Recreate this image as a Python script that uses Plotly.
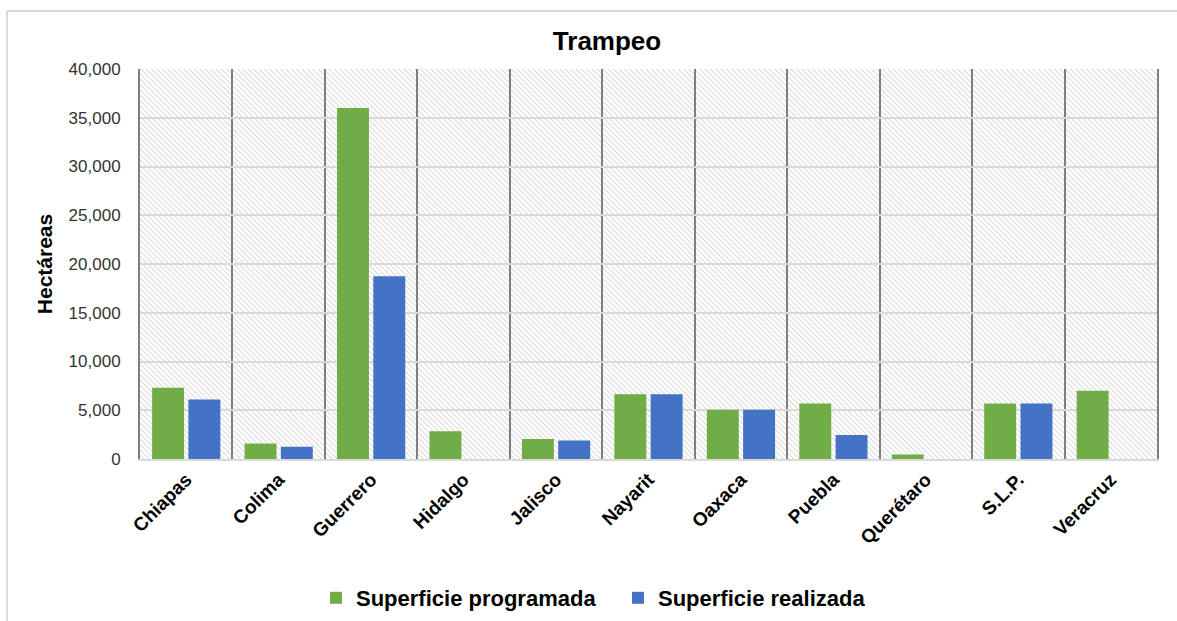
import base64
import plotly.graph_objects as go

estados = ["Chiapas", "Colima", "Guerrero", "Hidalgo", "Jalisco", "Nayarit",
           "Oaxaca", "Puebla", "Querétaro", "S.L.P.", "Veracruz"]
sup_programada = [7300, 1600, 36000, 2850, 2050, 6650, 5050, 5700, 450, 5700, 7000]
sup_realizada = [6100, 1250, 18750, 0, 1900, 6650, 5050, 2450, 0, 5700, 0]
y_ticks = [0, 5000, 10000, 15000, 20000, 25000, 30000, 35000, 40000]

W, H = 1177, 621
ML, MR, MT, MB = 140, 20, 69, 162
PW, PH = W - ML - MR, H - MT - MB

FONT = "Liberation Sans Narrow, Arial Narrow, Liberation Sans, Arial, sans-serif"

svg = (
    f'<svg xmlns="http://www.w3.org/2000/svg" width="{PW}" height="{PH}" viewBox="0 0 {PW} {PH}">'
    '<defs><pattern id="h" patternUnits="userSpaceOnUse" width="3.8" height="3.8" '
    'patternTransform="rotate(-45)"><rect width="3.8" height="3.8" fill="#ffffff"/>'
    '<line x1="0.5" y1="0" x2="0.5" y2="3.8" stroke="#d8d8d8" stroke-width="1"/></pattern></defs>'
    f'<rect width="{PW}" height="{PH}" fill="url(#h)"/></svg>'
)
svg_uri = "data:image/svg+xml;base64," + base64.b64encode(svg.encode()).decode()

fig = go.Figure()
fig.add_trace(go.Bar(name="Superficie programada", x=estados, y=sup_programada,
                     marker=dict(color="#70AD47", line=dict(width=0))))
fig.add_trace(go.Bar(name="Superficie realizada", x=estados, y=sup_realizada,
                     marker=dict(color="#4472C4", line=dict(width=0))))

fig.update_layout(
    width=W, height=H,
    margin=dict(l=ML, r=MR, t=MT, b=MB, autoexpand=False),
    paper_bgcolor="white",
    plot_bgcolor="rgba(0,0,0,0)",
    barmode="group", bargap=0.215, bargroupgap=0.12,
    font=dict(family=FONT, color="#000000"),
    title=dict(text="Trampeo", x=607 / W, xanchor="center",
               y=1 - 41 / H, yanchor="middle",
               font=dict(size=26, family=FONT, color="#000000", weight="bold")),
    showlegend=True,
    legend=dict(orientation="h", x=(618 - ML) / PW, xanchor="center",
                y=-(598 - (H - MB)) / PH, yanchor="middle",
                font=dict(size=22, family=FONT, color="#000000", weight="bold"),
                traceorder="normal", itemwidth=30,
                entrywidth=257, entrywidthmode="pixels"),
    images=[dict(source=svg_uri, xref="paper", yref="paper", x=0, y=1,
                 sizex=1, sizey=1, sizing="stretch", xanchor="left", yanchor="top",
                 layer="below")],
    shapes=[
        dict(type="line", xref="paper", yref="paper",
             x0=(7 - ML) / PW, x1=(W + 5 - ML) / PW,
             y0=(H - MB - 11) / PH, y1=(H - MB - 11) / PH,
             line=dict(color="#d9d9d9", width=2)),
        dict(type="line", xref="paper", yref="paper",
             x0=(7 - ML) / PW, x1=(7 - ML) / PW,
             y0=(H - MB - 11) / PH, y1=-(MB + 5) / PH,
             line=dict(color="#d9d9d9", width=2)),
    ],
)

fig.update_xaxes(
    type="category", tickson="boundaries", showgrid=True,
    gridcolor="#7f7f7f", gridwidth=2, ticks="", automargin=False,
    tickangle=-45, tickfont=dict(size=19, family=FONT, color="#000000", weight="bold"),
    showline=True, linecolor="#d9d9d9", linewidth=2,
)
fig.update_yaxes(
    range=[0, 40000], tickvals=y_ticks, tickformat=",", automargin=False,
    showgrid=True, gridcolor="#d9d9d9", gridwidth=2,
    zeroline=False, ticks="", ticklen=0, ticklabelstandoff=14,
    tickfont=dict(size=17, family=FONT, color="#333333"),
    showline=True, linecolor="#7f7f7f", linewidth=2, mirror=True,
    title=dict(text="Hectáreas", font=dict(size=21, family=FONT, color="#000000", weight="bold"),
               standoff=10),
)

fig.write_html("out.html", config={"displayModeBar": False},
               post_script="document.body.style.margin='0px';")
